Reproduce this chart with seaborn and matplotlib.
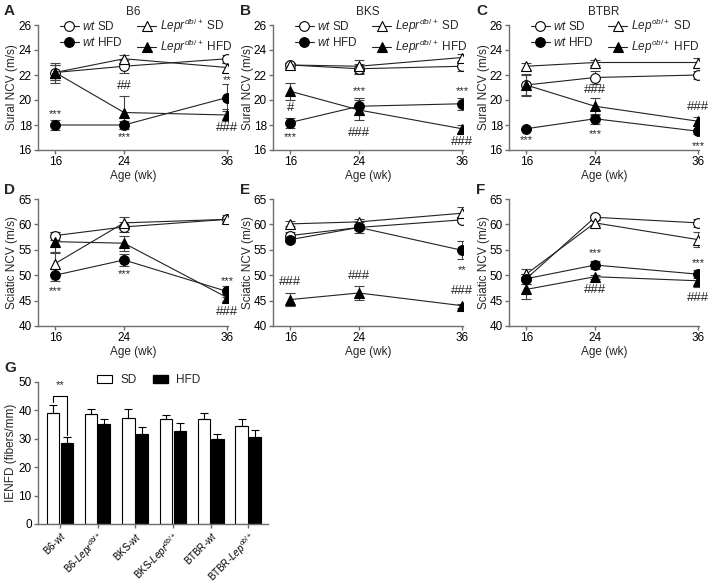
import numpy as np
import pandas as pd
import matplotlib
matplotlib.use("Agg")
import matplotlib.pyplot as plt
import seaborn as sns
from matplotlib.lines import Line2D
from matplotlib.patches import Patch

sns.set_style("ticks")
plt.rcParams["font.family"] = ["Liberation Sans", "DejaVu Sans"]
plt.rcParams["mathtext.fontset"] = "custom"
plt.rcParams["mathtext.rm"] = "Liberation Sans"
plt.rcParams["mathtext.it"] = "Liberation Sans:italic"
plt.rcParams["mathtext.bf"] = "Liberation Sans:bold"
plt.rcParams["font.size"] = 8.5

ages = [16, 24, 36]

# order of series in each panel: wt SD, mutant SD, wt HFD, mutant HFD
sural_b6 = [[22.2, 22.7, 23.3], [22.2, 23.3, 22.6], [18.0, 18.0, 20.2], [22.2, 19.0, 18.8]]
sural_b6_err = [[0.6, 0.5, 0.3], [0.8, 0.3, 0.4], [0.4, 0.3, 1.1], [0.6, 1.3, 0.5]]
sural_bks = [[22.8, 22.5, 22.7], [22.8, 22.7, 23.4], [18.2, 19.5, 19.7], [20.7, 19.2, 17.7]]
sural_bks_err = [[0.2, 0.4, 0.4], [0.2, 0.5, 0.3], [0.4, 0.7, 0.5], [0.7, 0.8, 0.3]]
sural_btbr = [[21.2, 21.8, 22.0], [22.7, 23.0, 23.0], [17.7, 18.5, 17.5], [21.2, 19.5, 18.3]]
sural_btbr_err = [[0.8, 0.5, 0.3], [0.3, 0.2, 0.4], [0.1, 0.4, 0.2], [0.9, 0.7, 0.3]]

sciatic_b6 = [[57.8, 59.5, 61.0], [52.3, 60.3, 61.0], [50.0, 53.0, 46.8], [56.6, 56.3, 45.6]]
sciatic_b6_err = [[0.8, 1.0, 0.8], [2.0, 1.2, 0.5], [1.2, 1.2, 1.0], [2.0, 1.5, 0.7]]
sciatic_bks = [[57.8, 59.4, 60.9], [60.1, 60.5, 62.2], [57.0, 59.4, 54.9], [45.2, 46.5, 44.0]]
sciatic_bks_err = [[0.8, 1.0, 0.5], [0.5, 0.5, 1.3], [0.5, 0.5, 1.8], [1.3, 1.3, 0.4]]
sciatic_btbr = [[49.3, 61.4, 60.3], [50.2, 60.3, 57.0], [49.3, 52.0, 50.2], [47.2, 49.7, 48.9]]
sciatic_btbr_err = [[1.0, 0.5, 0.8], [1.0, 0.5, 1.5], [1.0, 0.8, 0.8], [1.8, 0.4, 1.2]]

# significance marks: (age, y, text)
marks_a = [(16, 19.07, "***"), (24, 21.12, "##"), (24, 17.2, "***"), (36, 21.8, "**"), (36, 17.73, "###")]
marks_b = [(16, 19.33, "#"), (16, 17.2, "***"), (24, 20.85, "***"), (24, 17.39, "###"),
           (36, 20.85, "***"), (36, 16.67, "###")]
marks_c = [(16, 16.93, "***"), (24, 20.8, "###"), (24, 17.47, "***"), (36, 19.41, "###"), (36, 16.48, "***")]
marks_d = [(16, 47.28, "***"), (24, 50.6, "***"), (36, 49.27, "***"), (36, 42.85, "###")]
marks_e = [(16, 48.6, "###"), (24, 49.93, "###"), (36, 51.46, "**"), (36, 46.8, "###")]
marks_f = [(24, 54.77, "***"), (24, 47.0, "###"), (36, 52.78, "***"), (36, 45.5, "###")]

strains = ["B6-$\\mathit{wt}$", "B6-$\\mathit{Lepr}^{db/+}$", "BKS-$\\mathit{wt}$",
           "BKS-$\\mathit{Lepr}^{db/+}$", "BTBR-$\\mathit{wt}$", "BTBR-$\\mathit{Lep}^{ob/+}$"]
ienfd_sd = [39.1, 38.9, 37.5, 37.1, 37.1, 34.4]
ienfd_sd_err = [2.7, 1.5, 2.9, 1.4, 2.1, 2.7]
ienfd_hfd = [28.4, 35.1, 31.7, 32.8, 30.1, 30.5]
ienfd_hfd_err = [2.1, 2.0, 2.3, 2.9, 1.6, 2.5]

W, H = 708, 586
fig = plt.figure(figsize=(W / 100, H / 100), dpi=100)


def px_axes(left, top, right, bottom):
    return fig.add_axes([left / W, 1 - bottom / H, (right - left) / W, (bottom - top) / H])


styles = [("o", "white"), ("^", "white"), ("o", "black"), ("^", "black")]
spine_col = "#6e6e6e"


def style_axes(ax):
    sns.despine(ax=ax)
    for s in ["left", "bottom"]:
        ax.spines[s].set_color(spine_col)
        ax.spines[s].set_linewidth(1.0)
    ax.tick_params(colors=spine_col, labelcolor="black", length=3, width=1.0, labelsize=8.5, pad=1.5)


def add_mark(ax, x, y, t):
    if "*" in t:
        ax.annotate(t, (x, y), xytext=(0, -1.5), textcoords="offset points",
                    ha="center", va="center", fontsize=8)
    else:
        ax.annotate(t, (x, y), ha="center", va="center", fontsize=9.5)


def line_panel(ax, means, errs, marks, ylim, yticks, ylabel):
    for (mk, fc), m, e in zip(styles, means, errs):
        ax.errorbar(ages, m, yerr=e, fmt="none", ecolor="#444444", elinewidth=0.8,
                    capsize=3.5, capthick=0.8, zorder=1)
        sns.lineplot(x=ages, y=m, ax=ax, color="#222222", lw=0.8, marker=mk,
                     markersize=7 if mk == "o" else 6.5, markerfacecolor=fc,
                     markeredgecolor="black", markeredgewidth=0.8, zorder=3)
    for x, y, t in marks:
        add_mark(ax, x, y, t)
    ax.set_xlim(14, 36.1)
    ax.set_ylim(*ylim)
    ax.set_xticks(ages)
    ax.set_yticks(yticks)
    ax.set_xlabel("Age (wk)", labelpad=1)
    ax.set_ylabel(ylabel, labelpad=0)
    style_axes(ax)


cols = [(38, 228), (273, 463), (509, 699)]
sural = [(sural_b6, sural_b6_err, marks_a), (sural_bks, sural_bks_err, marks_b),
         (sural_btbr, sural_btbr_err, marks_c)]
sciatic = [(sciatic_b6, sciatic_b6_err, marks_d), (sciatic_bks, sciatic_bks_err, marks_e),
           (sciatic_btbr, sciatic_btbr_err, marks_f)]
titles = ["B6", "BKS", "BTBR"]
mutants = ["$\\mathit{Lepr}^{db/+}$", "$\\mathit{Lepr}^{db/+}$", "$\\mathit{Lep}^{ob/+}$"]

for i, (l, r) in enumerate(cols):
    ax = px_axes(l, 25, r, 150)
    m, e, mk = sural[i]
    line_panel(ax, m, e, mk, (16, 26), range(16, 27, 2), "Sural NCV (m/s)")
    fig.text((l + r) / 2 / W, 1 - 12 / H, titles[i], ha="center", va="center", fontsize=8.5)
    handles = [Line2D([], [], color="#222222", lw=0.8, marker=s[0], markersize=7 if s[0] == "o" else 6.5,
                      markerfacecolor=s[1], markeredgecolor="black", markeredgewidth=0.8)
               for s in [styles[0], styles[2], styles[1], styles[3]]]
    labels = ["$\\mathit{wt}$ SD", "$\\mathit{wt}$ HFD", mutants[i] + " SD", mutants[i] + " HFD"]
    ax.legend(handles, labels, ncol=2, loc="upper left", frameon=False,
              bbox_to_anchor=((l + 22) / W, 1 - 17 / H), bbox_transform=fig.transFigure,
              borderpad=0, borderaxespad=0, handlelength=1.6, handletextpad=0.3,
              columnspacing=1.2, labelspacing=0.25, fontsize=8.5)

    ax2 = px_axes(l, 199, r, 326)
    m, e, mk = sciatic[i]
    line_panel(ax2, m, e, mk, (40, 65), range(40, 66, 5), "Sciatic NCV (m/s)")

# panel G
df = pd.DataFrame({
    "strain": strains * 2,
    "diet": ["SD"] * 6 + ["HFD"] * 6,
    "ienfd": ienfd_sd + ienfd_hfd,
})
axg = px_axes(38, 382, 268, 524)
sns.barplot(data=df, x="strain", y="ienfd", hue="diet", palette={"SD": "white", "HFD": "black"},
            edgecolor="black", linewidth=0.8, width=0.72, gap=0.1, errorbar=None, legend=False, ax=axg)
errs = ienfd_sd_err + ienfd_hfd_err
for p, e in zip(axg.patches, errs):
    xc = p.get_x() + p.get_width() / 2
    axg.errorbar(xc, p.get_height(), yerr=[[0], [e]], fmt="none", ecolor="black",
                 elinewidth=0.8, capsize=3, capthick=0.8, zorder=1)
axg.set_xlim(-0.58, 5.52)
axg.set_ylim(0, 50)
axg.set_yticks(range(0, 51, 10))
axg.set_xlabel("")
axg.set_ylabel("IENFD (fibers/mm)", labelpad=1)
axg.set_xticks(range(6))
axg.set_xticklabels(strains, rotation=45, ha="right", rotation_mode="anchor")
style_axes(axg)
axg.tick_params(axis="x", labelsize=7.0, pad=1)

# bracket over B6-wt
p_sd, p_hfd = axg.patches[0], axg.patches[6]
x1 = p_sd.get_x() + p_sd.get_width() / 2
x2 = p_hfd.get_x() + p_hfd.get_width() / 2
axg.plot([x1, x1, x2, x2], [42.8, 45.2, 45.2, 31.5], color="black", lw=0.8, clip_on=False)
axg.annotate("**", ((x1 + x2) / 2, 49.5), xytext=(0, -1.5), textcoords="offset points",
             ha="center", va="center", fontsize=8, annotation_clip=False)

fig.legend([Patch(facecolor="white", edgecolor="black", lw=0.8), Patch(facecolor="black", edgecolor="black")],
           ["SD", "HFD"], ncol=2, loc="center left", bbox_to_anchor=(97 / W, 1 - 380 / H),
           frameon=False, handlelength=1.25, handleheight=0.75, handletextpad=0.7,
           columnspacing=1.45, borderpad=0, borderaxespad=0, fontsize=8.5)

# panel letters
for t, x, y in [("A", 4, 11), ("B", 240, 11), ("C", 476, 11), ("D", 4, 190),
                ("E", 240, 190), ("F", 476, 190), ("G", 4, 368)]:
    fig.text(x / W, 1 - y / H, t, fontsize=11, fontweight="bold", va="center", ha="left")

fig.savefig("out.png", dpi=100)
